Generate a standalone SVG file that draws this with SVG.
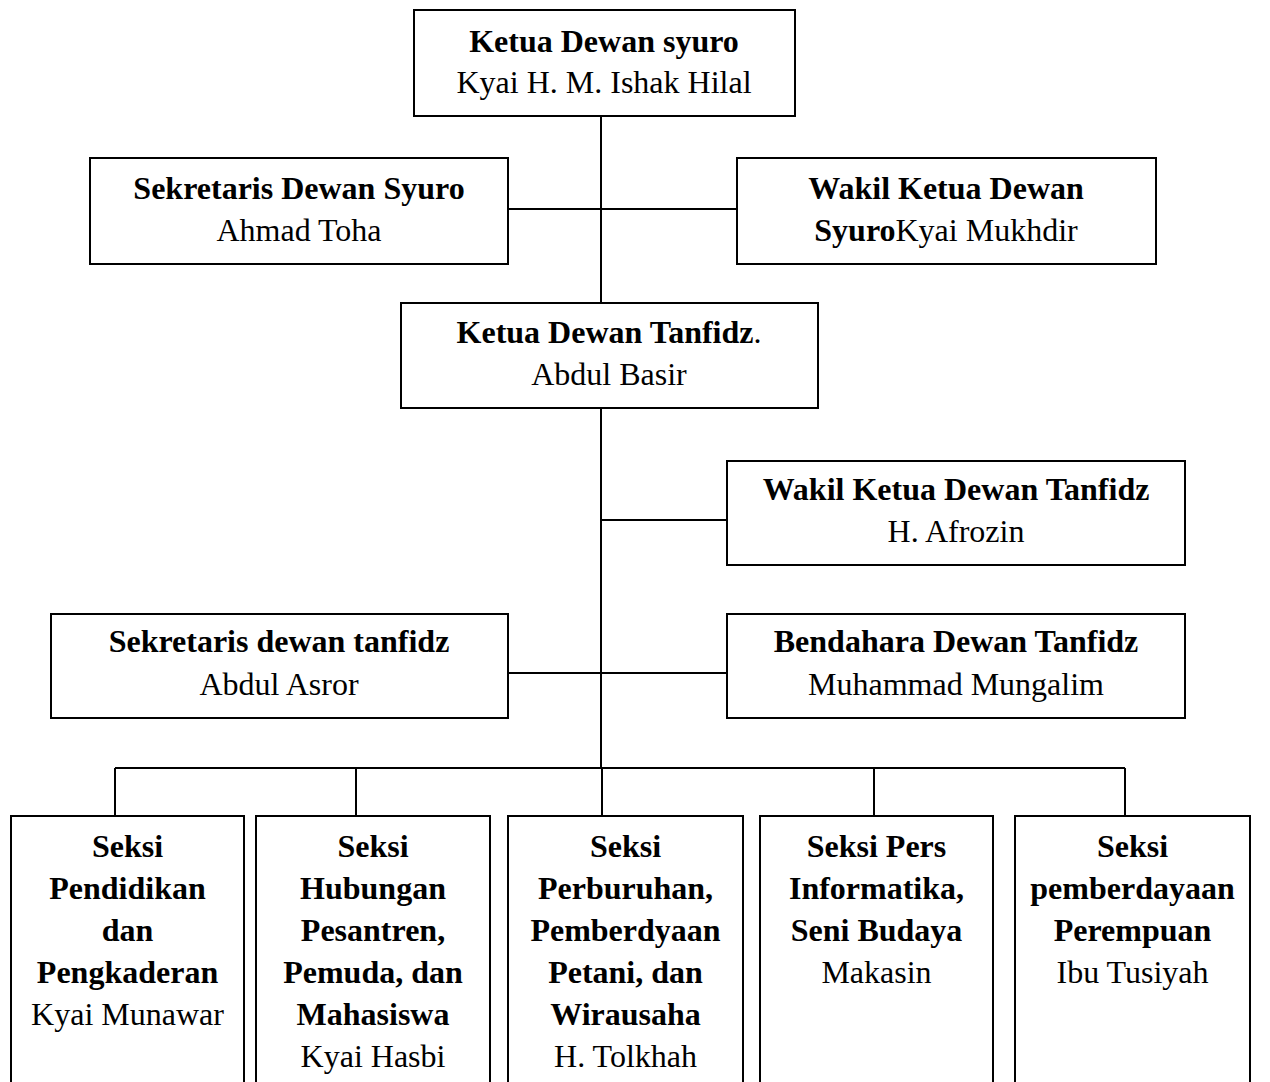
<svg xmlns="http://www.w3.org/2000/svg" width="1270" height="1082" viewBox="0 0 1270 1082">
<style>
.box{fill:#fff;stroke:#000;stroke-width:2}
.ln{fill:none;stroke:#000;stroke-width:2}
text{font-family:"Liberation Serif","Times New Roman",serif;font-size:32px;fill:#000;text-anchor:middle}
.b{font-weight:bold}
</style>
<rect width="1270" height="1082" fill="#fff"/>
<g id="connectors">
<path class="ln" d="M601 116V768"/>
<path class="ln" d="M508 209H737"/>
<path class="ln" d="M601 520H727"/>
<path class="ln" d="M508 673H727"/>
<path class="ln" d="M115 768H1125"/>
<path class="ln" d="M115 768V816M356 768V816M602 768V816M874 768V816M1125 768V816"/>
</g>
<g id="ketua-syuro">
<rect class="box" x="414" y="10" width="381" height="106"/>
<text x="604" y="52" class="b">Ketua Dewan syuro</text>
<text x="604" y="93">Kyai H. M. Ishak Hilal</text>
</g>
<g id="sekretaris-syuro">
<rect class="box" x="90" y="158" width="418" height="106"/>
<text x="299" y="199" class="b">Sekretaris Dewan Syuro</text>
<text x="299" y="241">Ahmad Toha</text>
</g>
<g id="wakil-syuro">
<rect class="box" x="737" y="158" width="419" height="106"/>
<text x="946" y="199" class="b">Wakil Ketua Dewan</text>
<text x="946" y="241"><tspan class="b">Syuro</tspan>Kyai Mukhdir</text>
</g>
<g id="ketua-tanfidz">
<rect class="box" x="401" y="303" width="417" height="105"/>
<text x="609" y="343"><tspan class="b">Ketua Dewan Tanfidz</tspan>.</text>
<text x="609" y="385">Abdul Basir</text>
</g>
<g id="wakil-tanfidz">
<rect class="box" x="727" y="461" width="458" height="104"/>
<text x="956" y="500" class="b">Wakil Ketua Dewan Tanfidz</text>
<text x="956" y="542">H. Afrozin</text>
</g>
<g id="sekretaris-tanfidz">
<rect class="box" x="51" y="614" width="457" height="104"/>
<text x="279" y="652" class="b">Sekretaris dewan tanfidz</text>
<text x="279" y="695">Abdul Asror</text>
</g>
<g id="bendahara-tanfidz">
<rect class="box" x="727" y="614" width="458" height="104"/>
<text x="956" y="652" class="b">Bendahara Dewan Tanfidz</text>
<text x="956" y="695">Muhammad Mungalim</text>
</g>
<g id="seksi-pendidikan">
<rect class="box" x="11" y="816" width="233" height="280"/>
<text x="127.5" y="857" class="b">Seksi</text>
<text x="127.5" y="899" class="b">Pendidikan</text>
<text x="127.5" y="941" class="b">dan</text>
<text x="127.5" y="983" class="b">Pengkaderan</text>
<text x="127.5" y="1025">Kyai Munawar</text>
</g>
<g id="seksi-hubungan">
<rect class="box" x="256" y="816" width="234" height="280"/>
<text x="373" y="857" class="b">Seksi</text>
<text x="373" y="899" class="b">Hubungan</text>
<text x="373" y="941" class="b">Pesantren,</text>
<text x="373" y="983" class="b">Pemuda, dan</text>
<text x="373" y="1025" class="b">Mahasiswa</text>
<text x="373" y="1067">Kyai Hasbi</text>
</g>
<g id="seksi-perburuhan">
<rect class="box" x="508" y="816" width="235" height="280"/>
<text x="625.5" y="857" class="b">Seksi</text>
<text x="625.5" y="899" class="b">Perburuhan,</text>
<text x="625.5" y="941" class="b">Pemberdyaan</text>
<text x="625.5" y="983" class="b">Petani, dan</text>
<text x="625.5" y="1025" class="b">Wirausaha</text>
<text x="625.5" y="1067">H. Tolkhah</text>
</g>
<g id="seksi-pers">
<rect class="box" x="760" y="816" width="233" height="280"/>
<text x="876.5" y="857" class="b">Seksi Pers</text>
<text x="876.5" y="899" class="b">Informatika,</text>
<text x="876.5" y="941" class="b">Seni Budaya</text>
<text x="876.5" y="983">Makasin</text>
</g>
<g id="seksi-perempuan">
<rect class="box" x="1015" y="816" width="235" height="280"/>
<text x="1132.5" y="857" class="b">Seksi</text>
<text x="1132.5" y="899" class="b">pemberdayaan</text>
<text x="1132.5" y="941" class="b">Perempuan</text>
<text x="1132.5" y="983">Ibu Tusiyah</text>
</g>
</svg>
